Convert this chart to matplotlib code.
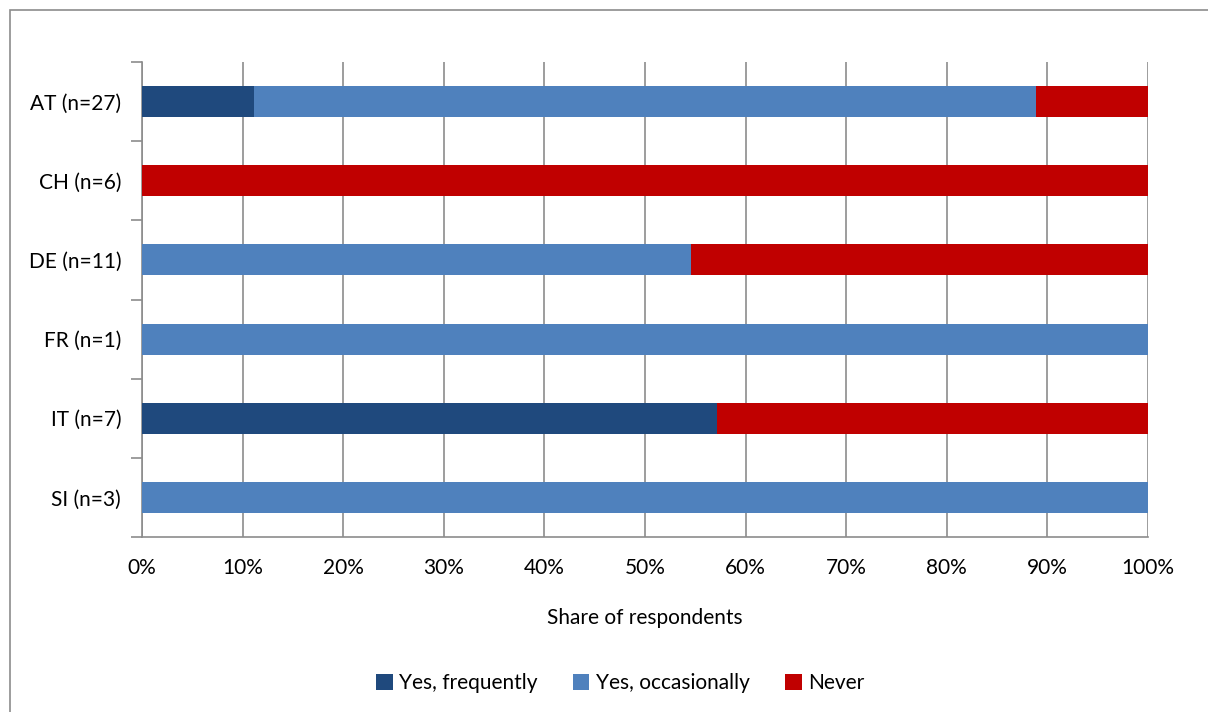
import numpy as np
import matplotlib.pyplot as plt
from matplotlib.patches import Rectangle
from matplotlib.ticker import FixedLocator, PercentFormatter

plt.rcParams['font.family'] = ['Lato', 'DejaVu Sans']

countries = ["AT (n=27)", "CH (n=6)", "DE (n=11)", "FR (n=1)", "IT (n=7)", "SI (n=3)"]
frequently = [3/27, 0, 0, 0, 4/7, 0]
occasionally = [21/27, 0, 6/11, 1, 0, 1]
never = [3/27, 1, 5/11, 0, 3/7, 0]

series_names = ["Yes, frequently", "Yes, occasionally", "Never"]
colors = ["#1F497D", "#4F81BD", "#C00000"]

fig = plt.figure(figsize=(12.08, 7.12), dpi=100)
ax = fig.add_axes([142/1208, 1 - 537/712, (1148-142)/1208, (537-62)/712])

# outer chart frame
fig.patches.append(Rectangle((10/1208, -0.1), 1.2, 1 - 10/712 + 0.1, transform=fig.transFigure,
                             fill=False, edgecolor="#8C8C8C", linewidth=1.2))

y = np.arange(len(countries))
left = np.zeros(len(countries))
for vals, name, c in zip([frequently, occasionally, never], series_names, colors):
    ax.barh(y, vals, left=left, height=0.39, color=c, label=name, zorder=3)
    left += np.array(vals)

ax.set_xlim(0, 1)
ax.set_ylim(len(countries) - 0.5, -0.5)
ax.set_xticks(np.arange(0, 1.01, 0.1))
ax.xaxis.set_major_formatter(PercentFormatter(1.0, decimals=0))
ax.set_yticks(y)
ax.set_yticklabels(countries)
ax.yaxis.set_minor_locator(FixedLocator(np.arange(-0.5, len(countries), 1)))
ax.tick_params(axis='y', which='major', length=0, pad=15, labelsize=15)
ax.tick_params(axis='y', which='minor', length=8, color="#8C8C8C", width=1.2)
ax.tick_params(axis='x', length=0, pad=15, labelsize=15)
ax.grid(axis='x', color="#8C8C8C", linewidth=1.2, zorder=0)
for s in ['top', 'right']:
    ax.spines[s].set_visible(False)
ax.spines['left'].set_color("#8C8C8C")
ax.spines['bottom'].set_color("#8C8C8C")
ax.spines['left'].set_linewidth(1.2)
ax.spines['bottom'].set_linewidth(1.2)

ax.set_xlabel("Share of respondents", fontsize=15, labelpad=22)

fig.legend(loc='center', bbox_to_anchor=(620/1208, 1 - 683/712), ncol=3, frameon=False,
           fontsize=15, handlelength=0.8, handleheight=0.8, handletextpad=0.3, columnspacing=1.7)

fig.savefig("out.png", dpi=100)
